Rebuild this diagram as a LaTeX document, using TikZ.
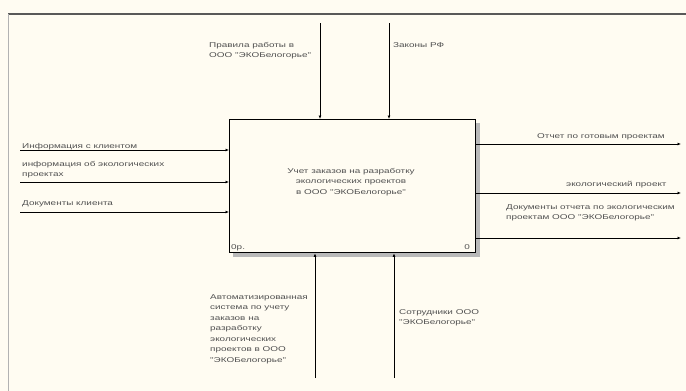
\documentclass[tikz,border=0pt]{standalone}
\usepackage{fontspec}
\setmainfont{Liberation Sans}
\newfontfamily\lblfont[FakeStretch=1.42]{Liberation Sans}
\usetikzlibrary{arrows.meta}
\definecolor{bg}{HTML}{FFFCF2}
\definecolor{txt}{HTML}{505050}
\begin{document}
\begin{tikzpicture}[x=1pt,y=-1pt,
  lbl/.style={font=\lblfont\fontsize{7}{10}\selectfont, text=txt, inner sep=0pt, align=left, anchor=base west},
  arr/.style={draw=black, line width=0.8pt, -{Latex[length=3.5pt,width=3pt]}},
  mainbox/.style={draw=black, line width=1.4pt, minimum width=246pt, minimum height=133pt, anchor=north west, inner sep=0pt}]
\fill[bg] (0,0) rectangle (686,391);
\useasboundingbox (0,0) rectangle (686,391);
% frame lines
\coordinate (tl) at (8,14);
\coordinate (tr) at (686,14);
\coordinate (bl) at (8,391);
\draw[gray!70!black, line width=1.2pt] (tl) -- (tr);
\draw[gray!60, line width=0.8pt] (tl) -- (bl);
% shadow
\fill[gray!55] (233,252) rectangle (480,257);
\fill[gray!55] (475,123) rectangle (480,257);
% main box
\node[mainbox, fill=bg] (box) at (229,119) {};
% note: for multi-line nodes the base anchor is the last line's baseline
\node[lbl, anchor=base, align=center, font=\lblfont\fontsize{7}{10.5}\selectfont] (title) at (351,194) {Учет заказов на разработку\\ экологических проектов\\ в ООО "ЭКОБелогорье"};
\node[lbl, anchor=base west] (n0p) at (231,249) {0р.};
\node[lbl, anchor=base east] (n0) at (470,249) {0};
% inputs
\coordinate (i1) at (20,150);
\coordinate (i2) at (20,182);
\coordinate (i3) at (20,212);
\draw[arr] (i1) -- (i1 -| box.west);
\draw[arr] (i2) -- (i2 -| box.west);
\draw[arr] (i3) -- (i3 -| box.west);
\node[lbl] (li1) at (22,148) {Информация с клиентом};
\node[lbl] (li2) at (22,176) {информация об экологических\\проектах};
\node[lbl] (li3) at (22,205) {Документы клиента};
% outputs
\coordinate (o1) at (681,144);
\coordinate (o2) at (681,193);
\coordinate (o3) at (681,238);
\draw[arr] (o1 -| box.east) -- (o1);
\draw[arr] (o2 -| box.east) -- (o2);
\draw[arr] (o3 -| box.east) -- (o3);
\node[lbl, anchor=base east] (lo1) at (665,138) {Отчет по готовым проектам};
\node[lbl] (lo2) at (566,186) {экологический проект};
\node[lbl] (lo3) at (506,219) {Документы отчета по экологическим\\проектам ООО "ЭКОБелогорье"};
% controls
\coordinate (c1) at (320,23);
\coordinate (c2) at (389,23);
\draw[arr] (c1) -- (c1 |- box.north);
\draw[arr] (c2) -- (c2 |- box.north);
\node[lbl] (lc1) at (209,57) {Правила работы в\\ООО "ЭКОБелогорье"};
\node[lbl] (lc2) at (393,47) {Законы РФ};
% mechanisms
\coordinate (m1) at (315,378);
\coordinate (m2) at (394,378);
\draw[arr] (m1) -- (m1 |- box.south);
\draw[arr] (m2) -- (m2 |- box.south);
\node[lbl, font=\lblfont\fontsize{7}{10.5}\selectfont] (lm1) at (210,362) {Автоматизированная\\система по учету\\заказов на\\разработку\\экологических\\проектов в ООО\\"ЭКОБелогорье"};
\node[lbl] (lm2) at (399,324) {Сотрудники ООО\\"ЭКОБелогорье"};
\end{tikzpicture}
\end{document}
